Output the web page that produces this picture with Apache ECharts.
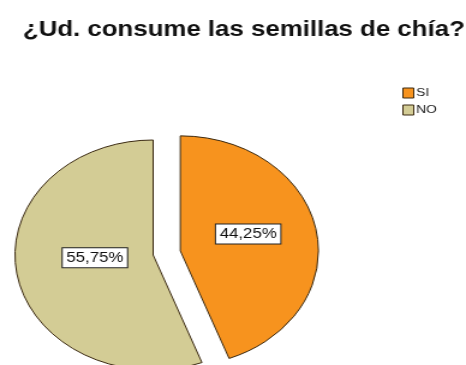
<!DOCTYPE html>
<html>
<head>
<meta charset="utf-8">
<script src="https://cdn.jsdelivr.net/npm/echarts@6/dist/echarts.min.js"></script>
<style>
  html, body { margin: 0; padding: 0; background: #fff; overflow: hidden; }
  #wrap { width: 466px; height: 365px; overflow: hidden; }
  #chart { width: 388px; height: 365px; transform: scaleX(1.201); transform-origin: 0 0; }
</style>
</head>
<body>
<div id="wrap"><div id="chart"></div></div>
<script>
const titleText = '¿Ud. consume las semillas de chía?';
const categories = ['SI', 'NO'];
const percents = [44.25, 55.75];
const colors = ['#F7931E', '#D3CC95'];

const chart = echarts.init(document.getElementById('chart'), null, { renderer: 'canvas' });
const fontFam = '"Liberation Sans", Arial, sans-serif';
const labelShift = [[-3, -6], [11, -8]];

chart.setOption({
  animation: false,
  backgroundColor: '#ffffff',
  title: {
    text: titleText,
    left: 14,
    top: 14,
    textStyle: { fontFamily: fontFam, fontWeight: 'bold', fontSize: 21.5, color: '#111' }
  },
  legend: {
    orient: 'vertical',
    left: 330,
    top: 82,
    itemWidth: 9,
    itemHeight: 10,
    itemGap: 5,
    icon: 'rect',
    data: categories,
    textStyle: { fontFamily: fontFam, fontSize: 11.5, color: '#222', padding: [0, 0, 0, -3] },
    itemStyle: { borderColor: '#3b2a12', borderWidth: 1 }
  },
  series: [{
    type: 'pie',
    center: [127.5, 255],
    radius: 115,
    startAngle: 90,
    clockwise: true,
    selectedMode: 'multiple',
    selectedOffset: 23,
    avoidLabelOverlap: false,
    labelLine: { show: false },
    itemStyle: { borderColor: '#3b2a12', borderWidth: 1 },
    emphasis: { disabled: true },
    label: {
      show: true,
      position: 'inside',
      formatter: p => p.value.toFixed(2).replace('.', ',') + '%',
      fontFamily: fontFam,
      fontSize: 14,
      color: '#111',
      backgroundColor: '#ffffff',
      borderColor: '#222',
      borderWidth: 1,
      padding: [3, 3, 2, 3]
    },
    labelLayout: p => ({ dx: labelShift[p.dataIndex][0], dy: labelShift[p.dataIndex][1] }),
    data: categories.map((c, i) => ({
      name: c,
      value: percents[i],
      selected: i === 0,
      itemStyle: { color: colors[i] }
    }))
  }]
});
</script>
</body>
</html>
